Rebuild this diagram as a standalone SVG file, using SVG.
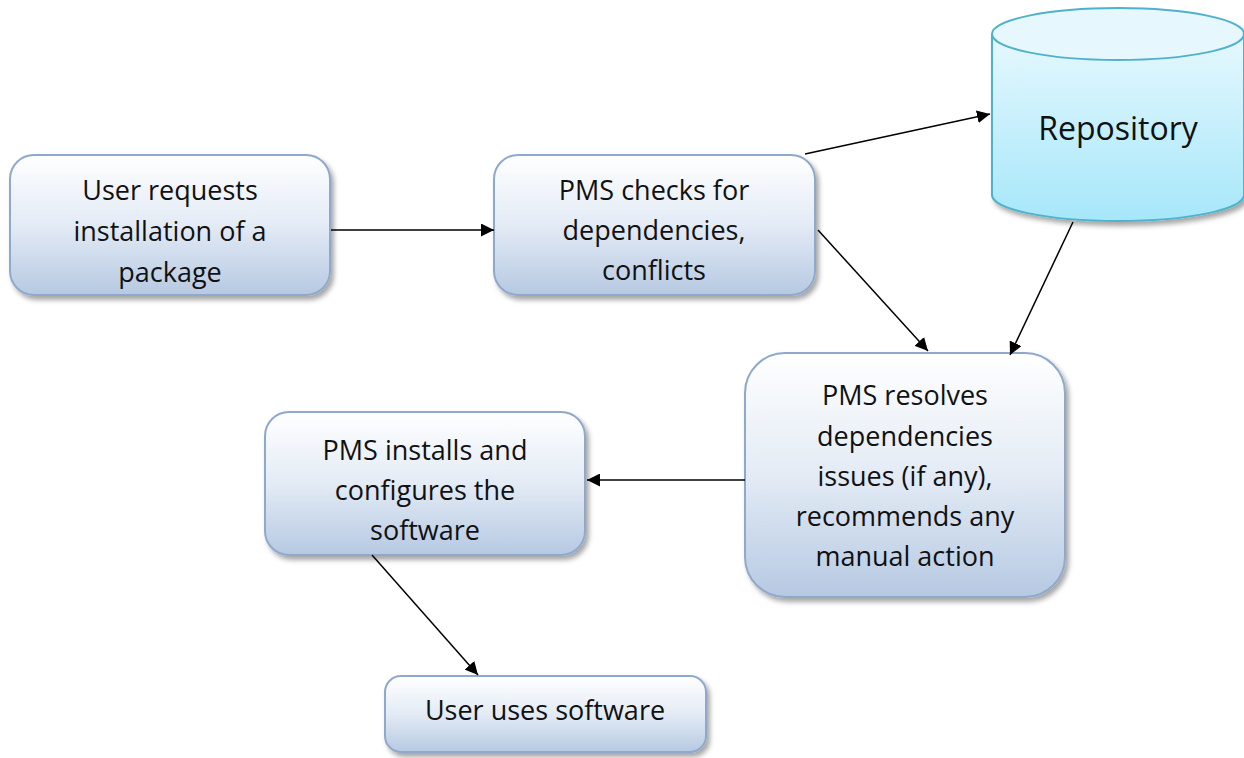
<svg xmlns="http://www.w3.org/2000/svg" width="1244" height="758" viewBox="0 0 1244 758">
<defs>
<linearGradient id="boxg" x1="0" y1="0" x2="0" y2="1">
<stop offset="0" stop-color="#ffffff"/>
<stop offset="0.5" stop-color="#e3ebf5"/>
<stop offset="1" stop-color="#b6c9e2"/>
</linearGradient>
<linearGradient id="cylg" x1="0" y1="0" x2="0" y2="1">
<stop offset="0" stop-color="#e6f8fd"/>
<stop offset="1" stop-color="#a6e7fa"/>
</linearGradient>
<filter id="sh" x="-10%" y="-10%" width="125%" height="130%">
<feDropShadow dx="3" dy="4" stdDeviation="2.5" flood-color="#000" flood-opacity="0.35"/>
</filter>
<marker id="ah" viewBox="0 0 12 12" refX="12" refY="6" markerWidth="13" markerHeight="13" markerUnits="userSpaceOnUse" orient="auto">
<path d="M0,0 L12,6 L0,12 z" fill="#000"/>
</marker>
<style>
.box{fill:url(#boxg);stroke:#8fa9cc;stroke-width:2;filter:url(#sh)}
.cyl{fill:url(#cylg);stroke:#4fb2cc;stroke-width:2}
.t{font-family:"Open Sans","Liberation Sans",sans-serif;font-size:27px;fill:#111;text-anchor:middle}
.c{stroke:#000;stroke-width:1.5;fill:none;marker-end:url(#ah)}
</style>
</defs>
<rect width="1244" height="758" fill="#fff"/>
<g id="node-request">
<rect class="box" x="10" y="155" width="320" height="140" rx="24"/>
<text class="t" x="170" y="200">User requests</text>
<text class="t" x="170" y="241">installation of a</text>
<text class="t" x="170" y="282">package</text>
</g>
<g id="node-check">
<rect class="box" x="494" y="155" width="321" height="140" rx="24"/>
<text class="t" x="654" y="200">PMS checks for</text>
<text class="t" x="654" y="240">dependencies,</text>
<text class="t" x="654" y="280">conflicts</text>
</g>
<g id="node-repo">
<g filter="url(#sh)">
<path class="cyl" d="M992,34 L992,195 A126,26 0 0 0 1244,195 L1244,34"/>
<ellipse class="cyl" cx="1118" cy="34" rx="126" ry="26" style="fill:#e6f8fd"/>
</g>
<text class="t" x="1118" y="140" style="font-size:32px">Repository</text>
</g>
<g id="node-resolve">
<rect class="box" x="745" y="353" width="320" height="244" rx="40"/>
<text class="t" x="905" y="405">PMS resolves</text>
<text class="t" x="905" y="446">dependencies</text>
<text class="t" x="905" y="486">issues (if any),</text>
<text class="t" x="905" y="526">recommends any</text>
<text class="t" x="905" y="566">manual action</text>
</g>
<g id="node-install">
<rect class="box" x="265" y="412" width="320" height="143" rx="24"/>
<text class="t" x="425" y="460">PMS installs and</text>
<text class="t" x="425" y="500">configures the</text>
<text class="t" x="425" y="540">software</text>
</g>
<g id="node-use">
<rect class="box" x="385" y="676" width="321" height="76" rx="16"/>
<text class="t" x="545" y="720">User uses software</text>
</g>
<g id="connectors">
<line class="c" x1="331" y1="230" x2="494" y2="230"/>
<line class="c" x1="805" y1="154" x2="990" y2="114"/>
<line class="c" x1="818" y1="230" x2="928" y2="351"/>
<line class="c" x1="1073" y1="222" x2="1010" y2="355"/>
<line class="c" x1="745" y1="480" x2="587" y2="480"/>
<line class="c" x1="372" y1="555" x2="478" y2="675"/>
</g>
</svg>
